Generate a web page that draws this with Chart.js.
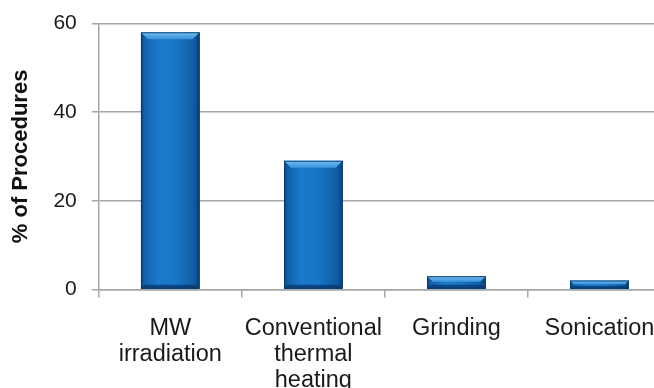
<!DOCTYPE html>
<html>
<head>
<meta charset="utf-8">
<script src="https://cdn.jsdelivr.net/npm/chart.js@4/dist/chart.umd.min.js"></script>
<style>
  html, body { margin: 0; padding: 0; background: #ffffff; overflow: hidden; }
  #wrap { position: absolute; left: 0; top: 0; width: 700px; height: 415px; }
</style>
</head>
<body>
<div id="wrap"><canvas id="chart" width="700" height="415"></canvas></div>
<script>
// Heating / activation method used in the surveyed procedures
const categories = [
  ['MW', 'irradiation'],
  ['Conventional', 'thermal', 'heating'],
  ['Grinding'],
  ['Sonication']
];
const percentValues = [58, 29, 3, 2];
const yTickValues = [0, 20, 40, 60];
const yAxisTitle = '% of Procedures';

const gridGray = '#a6a6a6';
const textDark = '#1a1a1a';

// Horizontal shading that gives each bar a rounded, glossy look
const shadeStops = [
  [0.00, '#0a4785'],
  [0.07, '#1262ac'],
  [0.30, '#1a7bcb'],
  [0.60, '#1875c5'],
  [0.90, '#115ca4'],
  [1.00, '#0a427d']
];

// Bars are filled here so the gradient can follow each bar's final geometry
const shadedBarsPlugin = {
  id: 'shadedBars',
  afterDatasetsDraw(chart) {
    const c = chart.ctx;
    const area = chart.chartArea;
    c.save();
    c.beginPath();
    c.rect(area.left, area.top - 2, area.right - area.left, area.bottom - area.top + 2);
    c.clip();
    chart.getDatasetMeta(0).data.forEach(bar => {
      const p = bar.getProps(['x', 'y', 'base', 'width'], true);
      if (![p.x, p.y, p.base, p.width].every(Number.isFinite)) return;
      const x0 = p.x - p.width / 2, x1 = p.x + p.width / 2;
      const top = Math.min(p.y, p.base), bot = Math.max(p.y, p.base);
      const h = bot - top;

      // body
      const g = c.createLinearGradient(x0, 0, x1, 0);
      shadeStops.forEach(s => g.addColorStop(s[0], s[1]));
      c.fillStyle = g;
      c.fillRect(x0, top, x1 - x0, h);

      // light top bevel
      const b = Math.min(7, h / 2.2);
      const tg = c.createLinearGradient(0, top, 0, top + b);
      tg.addColorStop(0, '#74bdf0');
      tg.addColorStop(1, '#3792da');
      c.fillStyle = tg;
      c.beginPath();
      c.moveTo(x0, top); c.lineTo(x1, top);
      c.lineTo(x1 - b, top + b); c.lineTo(x0 + b, top + b);
      c.closePath(); c.fill();

      // darker bottom bevel
      const bb = Math.min(4, h / 3);
      c.fillStyle = 'rgba(8,55,110,0.75)';
      c.beginPath();
      c.moveTo(x0, bot); c.lineTo(x1, bot);
      c.lineTo(x1 - bb, bot - bb); c.lineTo(x0 + bb, bot - bb);
      c.closePath(); c.fill();

      // thin outline
      c.strokeStyle = 'rgba(8,50,100,0.8)';
      c.lineWidth = 1;
      c.strokeRect(x0 + 0.5, top + 0.5, x1 - x0 - 1, h - 1);
    });
    c.restore();
  }
};

new Chart(document.getElementById('chart'), {
  type: 'bar',
  data: {
    labels: categories,
    datasets: [{
      data: percentValues,
      backgroundColor: '#1673c2',
      borderWidth: 0,
      barPercentage: 0.41,
      categoryPercentage: 1.0
    }]
  },
  options: {
    responsive: false,
    animation: false,
    events: [],
    layout: { padding: { left: 8, right: 29, top: 0, bottom: 4 } },
    plugins: { legend: { display: false }, tooltip: { enabled: false } },
    scales: {
      x: {
        grid: {
          display: true,
          drawOnChartArea: false,
          offset: true,
          color: gridGray,
          lineWidth: 1.5,
          tickLength: 8
        },
        border: { display: true, color: gridGray, width: 1.5 },
        ticks: {
          color: textDark,
          padding: 18,
          maxRotation: 0,
          autoSkip: false,
          font: { family: 'Liberation Sans, Arial, sans-serif', size: 23.5, lineHeight: 1.1 }
        }
      },
      y: {
        min: 0,
        max: 60,
        afterBuildTicks(scale) {
          scale.ticks = yTickValues.map(v => ({ value: v }));
        },
        grid: { color: gridGray, lineWidth: 1.5, tickLength: 7 },
        border: { display: true, color: gridGray, width: 1.5 },
        ticks: {
          color: textDark,
          padding: 15,
          font: { family: 'Liberation Sans, Arial, sans-serif', size: 21, lineHeight: 0.8 }
        },
        title: {
          display: true,
          text: yAxisTitle,
          color: '#111111',
          padding: { top: 0, bottom: 4 },
          font: { family: 'Liberation Sans, Arial, sans-serif', size: 22, weight: 'bold' }
        }
      }
    }
  },
  plugins: [shadedBarsPlugin]
});
</script>
</body>
</html>
